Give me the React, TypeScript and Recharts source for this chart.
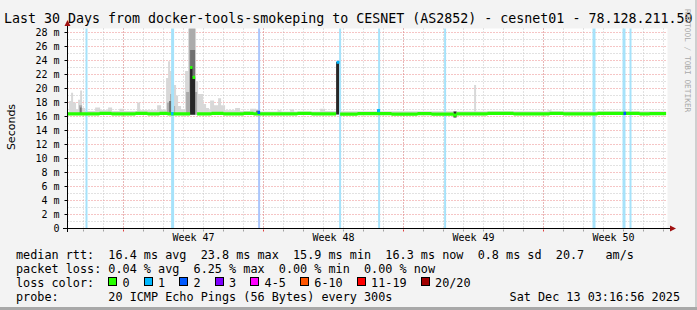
import React from 'react';
import { ComposedChart, Area, XAxis, YAxis, CartesianGrid, ReferenceArea } from 'recharts';

const W = 697;
const H = 310;
const MONO = '"DejaVu Sans Mono", monospace';

// x = days from the left edge of the 30 day window, y = rtt in ms

// light smoke (upper pings), step edges + top of each step
const lightEdges = [0, 0.08, 0.18, 0.28, 0.43, 0.53, 0.63, 0.73, 0.88, 1.38, 1.63, 2.03, 2.23, 2.6, 2.8, 3.48, 3.63, 4.48, 4.68, 4.93, 5.03, 5.13, 5.23, 5.43, 5.53, 5.68, 5.88, 6.03, 6.43, 6.53, 6.78, 6.93, 7.08, 7.13, 7.33, 7.53, 7.68, 7.88, 8.38, 8.63, 9.13, 9.43, 10.5, 10.7, 11.13, 11.33, 12.63, 12.88, 13.68, 20.33, 20.43, 24.0, 24.2, 29.93];
const lightTop = [16.6, 18.2, 19.4, 18.0, 17.0, 18.4, 19.7, 17.2, 16.8, 17.3, 16.9, 17.3, 16.8, 17.1, 16.8, 18.0, 16.9, 17.6, 17.0, 21.5, 23.9, 22.5, 20.5, 19.0, 17.5, 17.0, 22.5, 28.6, 21.0, 19.2, 17.8, 17.2, 16.9, 18.3, 17.6, 18.6, 17.6, 16.9, 17.2, 16.8, 17.1, 16.7, 16.9, 16.7, 17.0, 16.7, 17.1, 16.8, 16.75, 20.5, 16.75, 16.9, 16.75];

// mid smoke
const midEdges = [0.58, 0.73, 4.98, 5.13, 5.28, 5.38, 5.93, 6.08, 6.38, 6.48];
const midTop = [17.6, null, 18.0, 19.2, 17.5, null, 19.5, 28.6, 19.5];

// dark smoke
const darkEdges = [0.63, 0.7, 5.08, 5.23, 6.13, 6.38, 9.43, 9.55];
const darkTop = [17.3, null, 18.2, null, 25.5, null, 16.85];

// near black core of the spikes
const blackEdges = [6.13, 6.25, 6.38, 13.43, 13.6, 15.48, 15.6, 19.3, 19.45];
const blackLow = [16.3, 16.3, null, 16.3, null, 16.3, null, 15.85];
const blackTop = [23.0, 21.6, null, 23.8, null, 16.95, null, 16.7];

// median rtt
const medEdges = [0, 1.6, 2.2, 3.4, 4.0, 4.6, 5.0, 6.13, 6.25, 6.38, 6.48, 7.2, 7.8, 8.8, 9.3, 11.5, 12.2, 13.43, 13.63, 14.5, 16.2, 17.5, 18.2, 19.3, 19.45, 21.0, 22.3, 24.1, 24.8, 26.5, 28.6, 29.1, 29.93];
const medMs = [16.38, 16.45, 16.38, 16.45, 16.38, 16.45, 16.38, 23.0, 21.6, null, 16.38, 16.45, 16.38, 16.45, 16.38, 16.45, 16.38, null, 16.35, 16.42, 16.35, 16.42, 16.35, 16.2, 16.38, 16.45, 16.38, 16.45, 16.38, 16.45, 16.38, 16.42];

// median samples with packet loss
const mkStart = [5.18, 9.5, 13.45, 15.48, 27.8];
const mkEnd = [5.3, 9.63, 13.6, 15.63, 27.93];
const mkMs = [16.4, 16.6, 23.75, 16.85, 16.45];
const mkLevel = [1, 2, 1, 1, 2];

// loss bars
const lossStart = [0.9, 5.18, 9.53, 13.58, 15.53, 18.83, 26.25, 27.75, 28.1];
const lossEnd = [1.0, 5.33, 9.63, 13.68, 15.63, 18.93, 26.4, 27.9, 28.2];
const lossLevel = [1, 1, 2, 1, 1, 1, 1, 1, 1];

const yTicks = [0, 2, 4, 6, 8, 10, 12, 14, 16, 18, 20, 22, 24, 26, 28];
const minorY = [1, 3, 5, 7, 9, 11, 13, 15, 17, 19, 21, 23, 25, 27];
const majorY = [2, 4, 6, 8, 10, 12, 14, 16, 18, 20, 22, 24, 26, 28];
const weekLines = [2.8, 9.8, 16.8, 23.8];
const weekCenters = [6.3, 13.3, 20.3, 27.3];
const weekLabels = ['Week 47', 'Week 48', 'Week 49', 'Week 50'];
const dayLines = Array.from({ length: 30 }, (_, i) => Math.round((0.8 + i) * 10) / 10);
const xTicks = [...dayLines, ...weekCenters].sort((a, b) => a - b);

const lossLabels = ['0', '1', '2', '3', '4-5', '6-10', '11-19', '20/20'];
const lossColors = ['#26ff00', '#00b8ff', '#0059ff', '#7e00ff', '#ff00ff', '#ff5500', '#ff0000', '#a10000'];
const lossBoxCol = [13, 18, 23, 28, 33, 40, 48, 57];

const titleText = 'Last 30 Days from docker-tools-smokeping to CESNET (AS2852) - cesnet01 - 78.128.211.50';
const legendRows = [
  'median rtt:  16.4 ms avg  23.8 ms max  15.9 ms min  16.3 ms now  0.8 ms sd  20.7   am/s',
  'packet loss: 0.04 % avg  6.25 % max  0.00 % min  0.00 % now',
  'loss color:    0    1    2    3    4-5    6-10    11-19    20/20',
  'probe:       20 ICMP Echo Pings (56 Bytes) every 300s',
];
const stampText = 'Sat Dec 13 03:16:56 2025';

const SMOKE_FLOOR = 16.25;
const BAND = 0.23;
const CH = 7.1; // mono char width in legend

type Pt = { d: number; r: [number, number] | null };

function steps(edges: number[], lo: number | (number | null)[], hi: (number | null)[]): Pt[] {
  const pts: Pt[] = [];
  hi.forEach((h, i) => {
    const l = Array.isArray(lo) ? lo[i] : lo;
    if (h == null || l == null) {
      pts.push({ d: edges[i], r: null });
      return;
    }
    pts.push({ d: edges[i], r: [l, h] }, { d: edges[i + 1], r: [l, h] });
  });
  return pts;
}

function spans(starts: number[], ends: number[], vals: number[]): Pt[] {
  const pts: Pt[] = [];
  starts.forEach((s, i) => {
    const r: [number, number] = [vals[i] - BAND, vals[i] + BAND];
    pts.push({ d: s, r }, { d: ends[i], r }, { d: ends[i], r: null });
  });
  return pts;
}

const lightData = steps(lightEdges, SMOKE_FLOOR, lightTop);
const midData = steps(midEdges, SMOKE_FLOOR, midTop);
const darkData = steps(darkEdges, SMOKE_FLOOR, darkTop);
const blackData = steps(blackEdges, blackLow, blackTop);
const medData = steps(
  medEdges,
  medMs.map((m) => (m == null ? null : m - BAND)),
  medMs.map((m) => (m == null ? null : m + BAND))
);
const pick = (lvl: number) => mkLevel.map((l, i) => (l === lvl ? i : -1)).filter((i) => i >= 0);
const mk1 = pick(1);
const mk2 = pick(2);
const mk1Data = spans(mk1.map((i) => mkStart[i]), mk1.map((i) => mkEnd[i]), mk1.map((i) => mkMs[i]));
const mk2Data = spans(mk2.map((i) => mkStart[i]), mk2.map((i) => mkEnd[i]), mk2.map((i) => mkMs[i]));

const XTick = (props: any) => {
  const { x, y, payload } = props;
  const v = payload.value;
  const wi = weekCenters.indexOf(v);
  if (wi >= 0) {
    return (
      <text x={x} y={y + 12.5} textAnchor="middle" fontFamily={MONO} fontSize={10} fill="#000">
        {weekLabels[wi]}
      </text>
    );
  }
  const major = weekLines.includes(v);
  return <line x1={x} x2={x} y1={y + 1} y2={y + 3} stroke={major ? '#e04040' : '#a0a0a0'} />;
};

export default function App() {
  const areaProps = {
    type: 'linear' as const,
    dataKey: 'r',
    stroke: 'none',
    fillOpacity: 1,
    isAnimationActive: false,
    dot: false,
    activeDot: false,
  };
  return (
    <div style={{ position: 'absolute', left: 0, top: 0, width: W, height: H, background: '#f3f3f3', overflow: 'hidden' }}>
      <ComposedChart width={W} height={H} margin={{ top: 28.5, right: 29.5, bottom: 61.5, left: 0.5 }}>
        <CartesianGrid fill="#ffffff" stroke="#c4c4c4" strokeDasharray="1 2" horizontalValues={minorY} verticalValues={dayLines} />
        <CartesianGrid stroke="#ec8a8a" strokeDasharray="1 2" horizontalValues={majorY} verticalValues={weekLines} />
        <XAxis
          dataKey="d"
          type="number"
          domain={[0, 30]}
          allowDataOverflow
          ticks={xTicks}
          interval={0}
          tick={<XTick />}
          tickLine={false}
          axisLine={false}
          tickSize={0}
          tickMargin={0}
          height={20}
        />
        <YAxis
          type="number"
          domain={[0, 200 / 7]}
          allowDataOverflow
          ticks={yTicks}
          interval={0}
          width={67}
          axisLine={false}
          tickSize={3}
          tickMargin={5}
          tickLine={{ stroke: '#000' }}
          tick={{ fontFamily: MONO, fontSize: 10, fill: '#000' }}
          tickFormatter={(v: number) => (v === 0 ? '0' : `${v} m`)}
        />
        <Area {...areaProps} data={lightData} fill="#d8d8d8" />
        <Area {...areaProps} data={midData} fill="#ababab" />
        <Area {...areaProps} data={darkData} fill="#707070" />
        <Area {...areaProps} data={blackData} fill="#262626" />
        {lossStart.map((s, i) => (
          <ReferenceArea
            key={`loss-${i}`}
            x1={s}
            x2={lossEnd[i]}
            fill={lossLevel[i] === 2 ? '#aac6fb' : '#a6e2fa'}
            fillOpacity={1}
            stroke="none"
          />
        ))}
        <Area {...areaProps} data={medData} fill="#26ff00" />
        <Area {...areaProps} data={mk1Data} fill="#00b8ff" />
        <Area {...areaProps} data={mk2Data} fill="#0059ff" />
      </ComposedChart>

      <svg width={W} height={H} style={{ position: 'absolute', left: 0, top: 0, pointerEvents: 'none' }}>
        <rect x={695} y={0} width={2} height={H} fill="#cfcfcf" />
        <rect x={0} y={307} width={W} height={3} fill="#a8a8a8" />

        <line x1={67.5} x2={67.5} y1={232} y2={25} stroke="#000" />
        <polygon points="64.5,26 70.5,26 67.5,20" fill="#a01010" />
        <line x1={63} x2={671} y1={228.5} y2={228.5} stroke="#000" />
        <polygon points="670,225.5 670,231.5 676,228.5" fill="#a01010" />

        <text x={4} y={23} fontFamily={MONO} fontSize={13.3} fill="#000" xmlSpace="preserve" style={{ whiteSpace: 'pre' }}>
          {titleText}
        </text>
        <text
          x={14.5}
          y={127}
          transform="rotate(-90 14.5 127)"
          textAnchor="middle"
          fontFamily='"DejaVu Sans", sans-serif'
          fontSize={11}
          fill="#000"
        >
          Seconds
        </text>
        <text
          x={685}
          y={9}
          transform="rotate(90 685 9)"
          fontFamily={MONO}
          fontSize={7.8}
          fill="#a8a8a8"
          xmlSpace="preserve"
          style={{ whiteSpace: 'pre' }}
        >
          RRDTOOL / TOBI OETIKER
        </text>

        {legendRows.map((row, i) => (
          <text
            key={`row-${i}`}
            x={16}
            y={258.5 + i * 14}
            fontFamily={MONO}
            fontSize={11.8}
            fill="#000"
            xmlSpace="preserve"
            style={{ whiteSpace: 'pre' }}
          >
            {row}
          </text>
        ))}
        {lossLabels.map((lab, i) => (
          <rect
            key={`box-${lab}`}
            x={Math.round(16 + lossBoxCol[i] * CH) + 0.5}
            y={277.5}
            width={8}
            height={8}
            fill={lossColors[i]}
            stroke="#000"
          />
        ))}
        <text x={680} y={300.5} textAnchor="end" fontFamily={MONO} fontSize={11.8} fill="#000">
          {stampText}
        </text>
      </svg>
    </div>
  );
}
